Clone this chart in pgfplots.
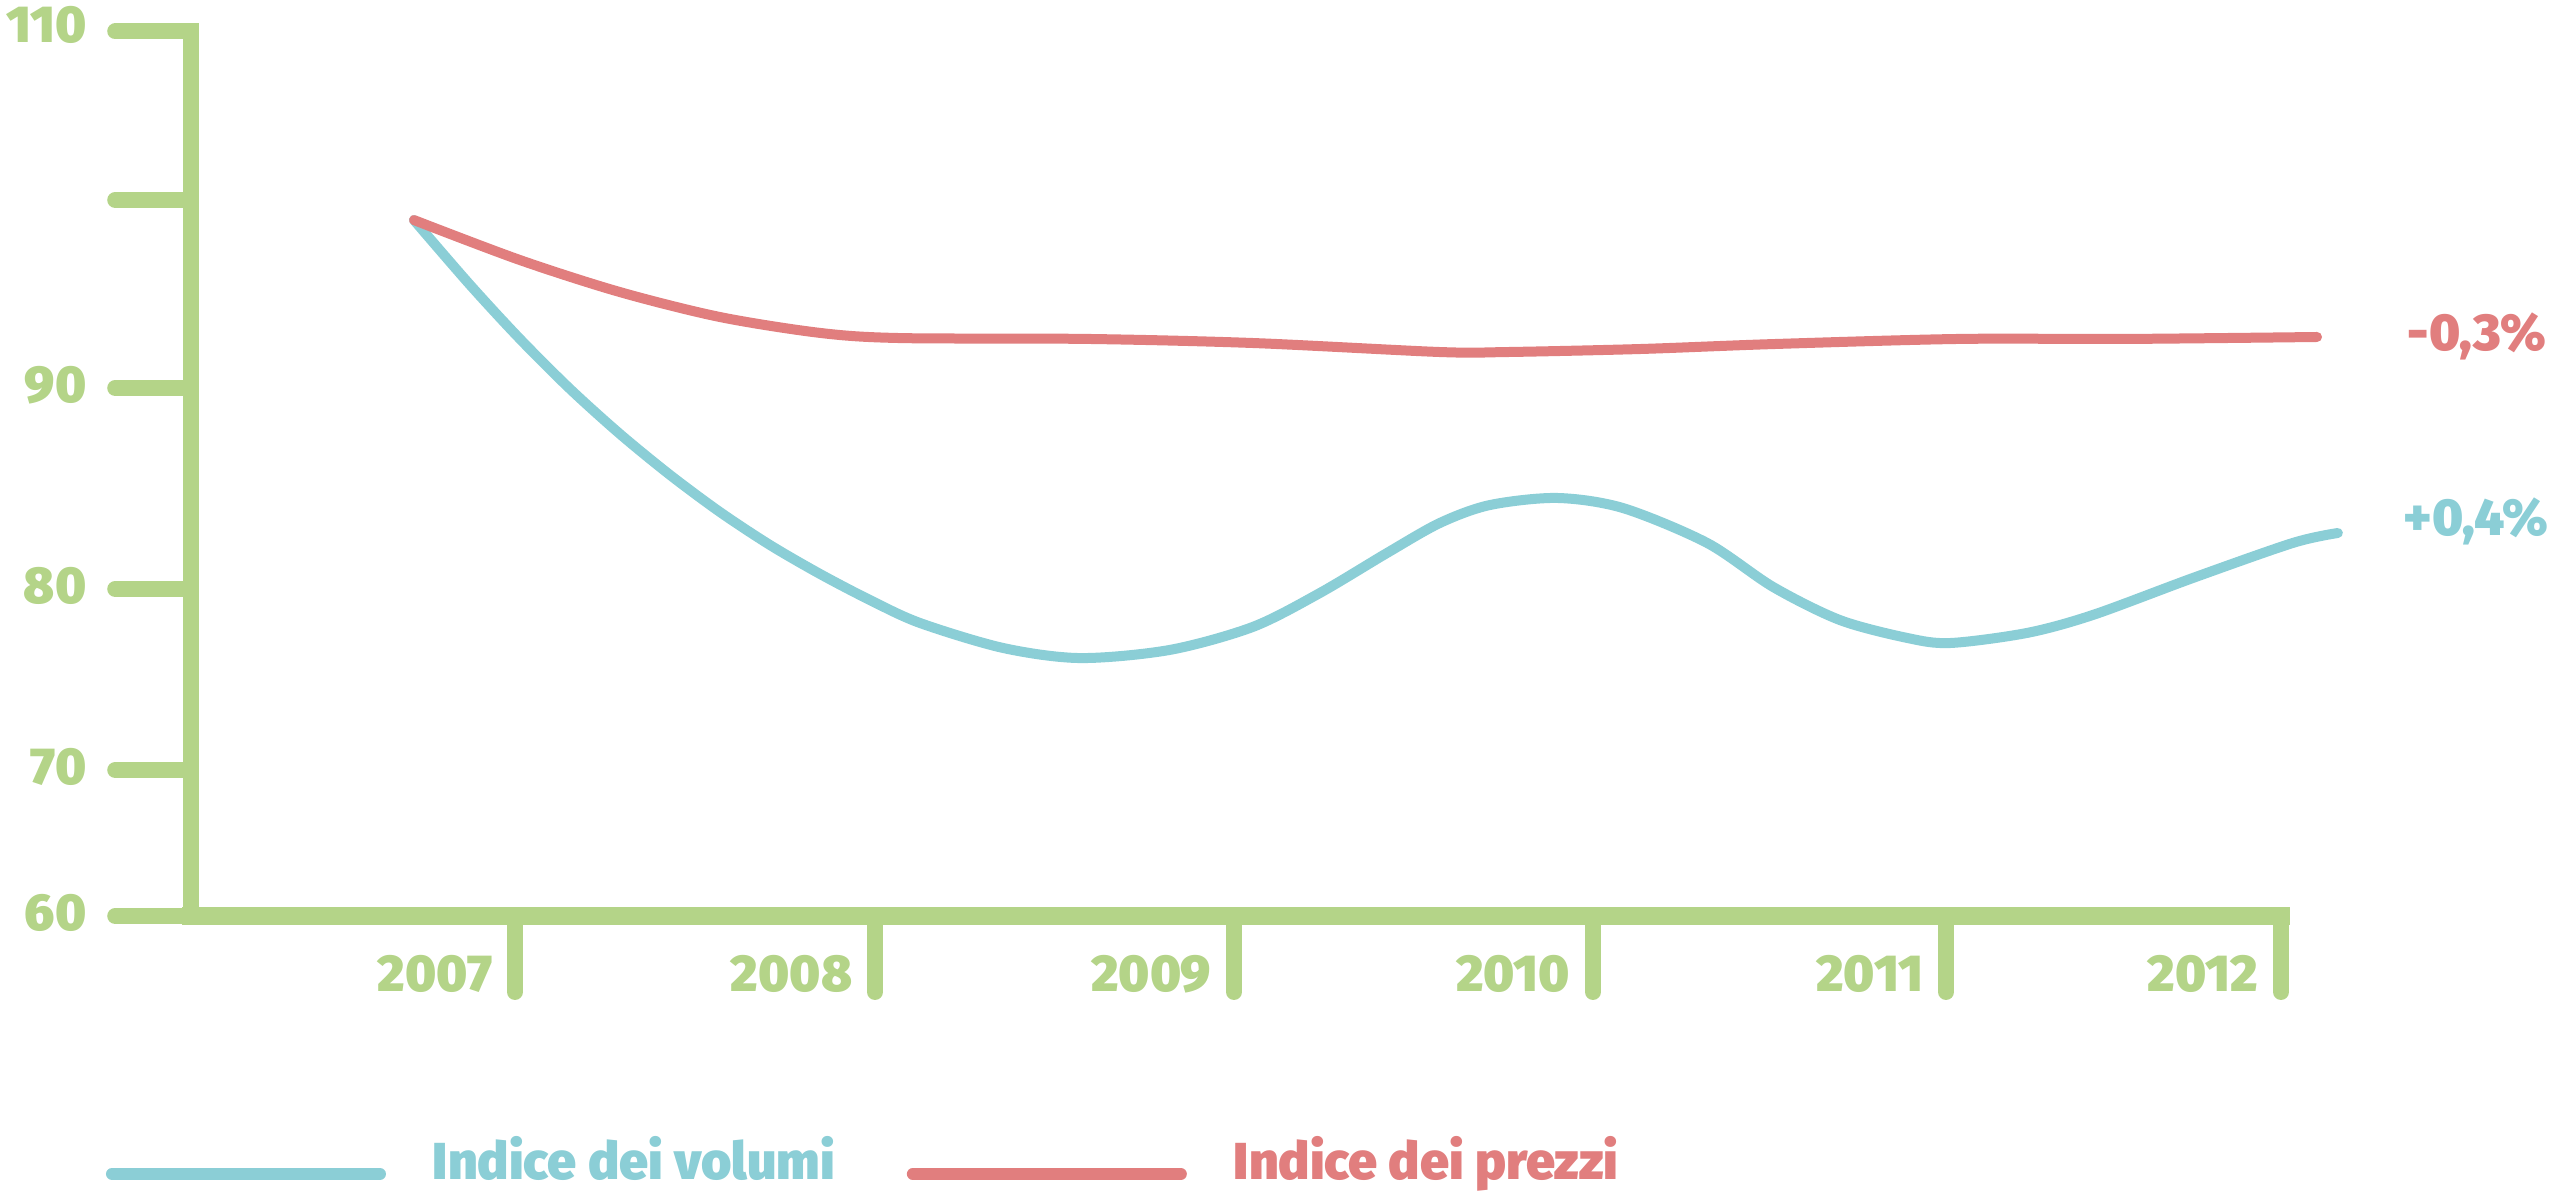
\documentclass[border=0pt]{standalone}
\usepackage{pgfplots}
\pgfplotsset{compat=1.18}
\usepackage{fontspec}
\setmainfont{Fira Sans}[BoldFont={Fira Sans Black}]
\definecolor{cgreen}{RGB}{180,212,136}
\definecolor{cblue}{RGB}{139,206,214}
\definecolor{cred}{RGB}{225,126,126}
\newcommand\lblfont{\bfseries\fontsize{13pt}{15pt}\selectfont}

\begin{document}
\begin{tikzpicture}
\begin{axis}[
  name=ax, at={(0,0)}, anchor=south west,
  width=522.5pt, height=221.125pt, scale only axis,
  xmin=2006.0827, xmax=2012, ymin=60, ymax=110,
  clip=false,
  axis x line=bottom, axis y line=left,
  x axis line style={-, line width=4.5pt, line cap=rect, cgreen},
  y axis line style={-, line width=4pt, line cap=rect, cgreen},
  xtick={2007,2008.0193,2009.0357,2010.0521,2011.0516,2012},
  xticklabels={2007,2008,2009,2010,2011,2012},
  ytick={60,68.25,78.49,89.85,100.48},
  yticklabels={60,70,80,90,},
  extra y ticks={110}, extra y tick labels={110},
  extra y tick style={yticklabel style={yshift=1pt}},
  tick align=outside, major tick length=19pt,
  every tick/.style={line width=4pt, line cap=round, cgreen},
  minor tick num=0,
  /pgf/number format/assume math mode=true,
  tick label style={font=\lblfont, text=cgreen, inner sep=0pt},
  yticklabel style={anchor=east, xshift=-7pt, yshift=0.75pt},
  xticklabel style={anchor=base east, xshift=-5.5pt, yshift=0pt},
  legend columns=-1,
  legend style={draw=none, fill=none, inner sep=0pt, outer sep=0pt,
    at={(0,0)}, anchor=south west, xshift=-21.25pt, yshift=-67.25pt,
    font=\lblfont, /tikz/column sep=11.75pt,
    /tikz/every even column/.append style={column sep=18pt},
    nodes={inner sep=0pt, text depth=0pt, text height=9.5pt}},
  legend image code/.code={\draw[#1, line width=3pt, line cap=round] (0pt,-3.25pt) -- (67pt,-3.25pt); \path (0pt,-4.75pt);},
]
\addplot[cblue, line width=2.5pt, smooth, line cap=round, line join=round] coordinates {
(2006.714,99.34) (2006.873,95.67) (2007.014,92.62) (2007.156,89.79)
(2007.297,87.25) (2007.439,84.93) (2007.580,82.84) (2007.722,80.97)
(2007.864,79.33) (2008.005,77.86) (2008.147,76.56) (2008.382,75.15)
(2008.600,74.58) (2008.854,75.04) (2009.089,76.34) (2009.279,78.26)
(2009.469,80.52) (2009.619,82.22) (2009.760,83.23) (2009.950,83.63)
(2010.137,83.06) (2010.375,81.09) (2010.562,78.60) (2010.751,76.73)
(2010.941,75.72) (2011.063,75.43) (2011.281,76.00) (2011.468,77.02)
(2011.751,79.11) (2012.034,81.09) (2012.161,81.65)
};
\addlegendentry{\textcolor{cblue}{Indice dei volumi}}
\addplot[cred, line width=2.5pt, smooth, line cap=round, line join=round] coordinates {
(2006.714,99.34) (2007.014,97.08) (2007.297,95.27) (2007.580,93.86)
(2007.864,92.96) (2008.090,92.67) (2008.619,92.62) (2009.089,92.39)
(2009.619,91.88) (2009.809,91.88) (2010.185,92.05) (2010.562,92.33)
(2011.091,92.62) (2011.564,92.62) (2012.102,92.73)
};
\addlegendentry{\textcolor{cred}{Indice dei prezzi}}
\node[anchor=base west, inner sep=0pt, font=\lblfont, text=cred, xshift=22.5pt, yshift=-3.4pt] at (axis cs:2012.102,92.73) {-0,3\%};
\node[anchor=base west, inner sep=0pt, font=\lblfont, text=cblue, xshift=16.25pt, yshift=-0.75pt] at (axis cs:2012.161,81.65) {+0,4\%};
\end{axis}
\pgfresetboundingbox
\path[use as bounding box] ([shift={(-47.75pt,-69.5pt)}]ax.south west) rectangle ([shift={(592.25pt,229pt)}]ax.south west);
\end{tikzpicture}
\end{document}
